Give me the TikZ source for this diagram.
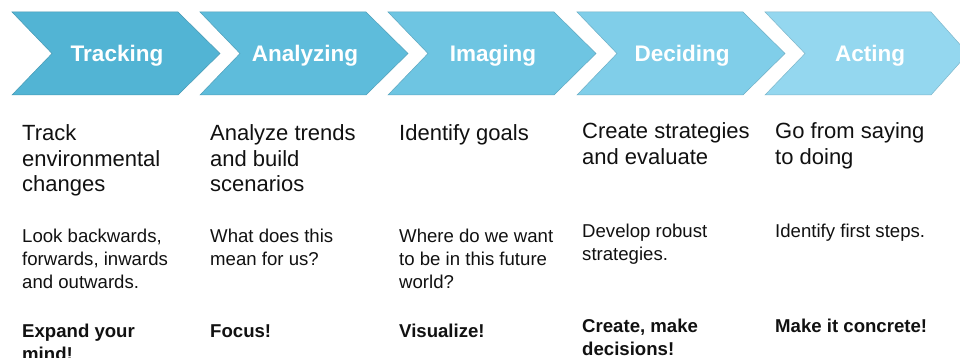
\documentclass[tikz,border=0pt]{standalone}
\usepackage{fontspec}
\setmainfont{Liberation Sans}
\definecolor{c1}{RGB}{82,180,212}
\definecolor{c2}{RGB}{94,188,219}
\definecolor{c3}{RGB}{110,197,226}
\definecolor{c4}{RGB}{128,206,233}
\definecolor{c5}{RGB}{148,215,239}
\definecolor{inkc}{RGB}{17,17,17}
\newcommand\headblock[1]{\parbox[t]{185pt}{\fontsize{22}{25.5}\selectfont\raggedright #1}}
\newcommand\subblock[1]{\parbox[t]{185pt}{\fontsize{18.6}{23.4}\selectfont\raggedright #1}}
\newcommand\boldblock[1]{\parbox[t]{185pt}{\fontsize{18.6}{23.4}\selectfont\bfseries\raggedright #1}}
\tikzset{
  chevshape/.style={line width=0.5pt},
  chevlabel/.style={text=white, font=\fontsize{22.5}{27}\selectfont\bfseries, inner sep=0, anchor=base},
  txt/.style={anchor=base west, inner sep=0, text=inkc},
}
\begin{document}
\begin{tikzpicture}[x=1pt, y=-1pt]
\useasboundingbox (0,0) rectangle (960,358);
\fill[white] (0,0) rectangle (960,358);
\begin{scope}
\clip (0,0) rectangle (960,358);
\foreach \xo/\col/\lab/\nm/\tip in {12/c1/Tracking/ta/42, 200/c2/Analyzing/tb/42, 388/c3/Imaging/tc/42, 577/c4/Deciding/td/42, 765/c5/Acting/te/37}{
  \filldraw[chevshape, fill=\col, draw=\col!85!black]
    (\xo,12) -- ++(166,0) -- ++(\tip,41.5) -- ++(-\tip,41.5) -- ++(-166,0) -- ++(40,-41.5) -- cycle;
  \node[chevlabel] (\nm) at (\xo+105,61.5) {\lab};
}
\end{scope}
% headings
\node[txt] (h1) at (22,141) {\headblock{Track\\environmental\\changes}};
\node[txt] (h2) at (210,141) {\headblock{Analyze trends\\and build\\scenarios}};
\node[txt] (h3) at (399,141) {\headblock{Identify goals}};
\node[txt] (h4) at (582,139) {\headblock{Create strategies\\and evaluate}};
\node[txt] (h5) at (775,139) {\headblock{Go from saying\\to doing}};
% sub texts
\node[txt] (s1) at (22,242) {\subblock{Look backwards,\\forwards, inwards\\and outwards.}};
\node[txt] (s2) at (210,242) {\subblock{What does this\\mean for us?}};
\node[txt] (s3) at (399,242) {\subblock{Where do we want\\to be in this future\\world?}};
\node[txt] (s4) at (582,237) {\subblock{Develop robust\\strategies.}};
\node[txt] (s5) at (775,237) {\subblock{Identify first steps.}};
% bold texts
\node[txt] (b1) at (22,337) {\boldblock{Expand your\\mind!}};
\node[txt] (b2) at (210,337) {\boldblock{Focus!}};
\node[txt] (b3) at (399,337) {\boldblock{Visualize!}};
\node[txt] (b4) at (582,332) {\boldblock{Create, make\\decisions!}};
\node[txt] (b5) at (775,332) {\boldblock{Make it concrete!}};
\end{tikzpicture}
\end{document}
